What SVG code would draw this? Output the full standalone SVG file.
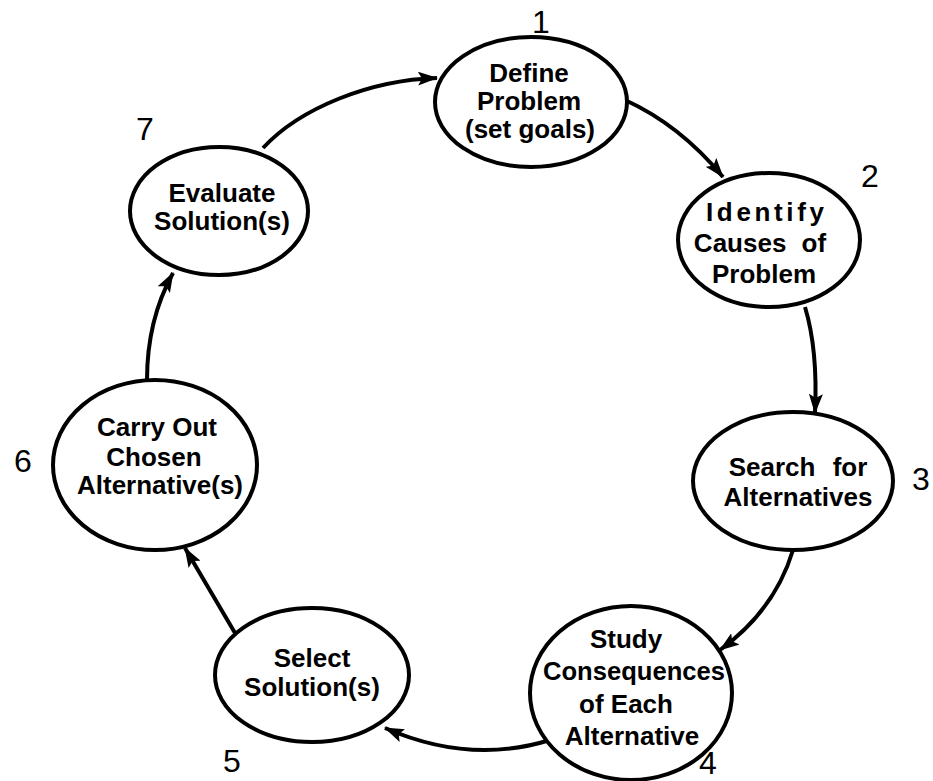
<svg xmlns="http://www.w3.org/2000/svg" width="933" height="781" viewBox="0 0 933 781">
<defs>
<marker id="ah" markerWidth="20" markerHeight="14" refX="19" refY="7" orient="auto" markerUnits="userSpaceOnUse">
<path d="M0,0 L20,7 L0,14 L4,7 Z" fill="#000"/>
</marker>
<style>
.node ellipse{fill:#fff;stroke:#000;stroke-width:4}
.lbl{font-family:"Liberation Sans",Arial,sans-serif;font-weight:bold;font-size:26px;text-anchor:middle;fill:#000}
.num{font-family:"Liberation Sans",Arial,sans-serif;font-size:32px;text-anchor:middle;fill:#000}
.edge{fill:none;stroke:#000;stroke-width:4;marker-end:url(#ah)}
</style>
</defs>
<rect width="933" height="781" fill="#fff"/>
<g id="connectors">
<path class="edge" d="M263,148 C300,108 370,80 437,78"/>
<path class="edge" d="M625,100 Q680,125 723,177"/>
<path class="edge" d="M805,307 Q818,350 815,413"/>
<path class="edge" d="M793,550 Q775,610 720,650"/>
<path class="edge" d="M550,740 Q470,765 385,728"/>
<path class="edge" d="M235,633 L185,548"/>
<path class="edge" d="M147,380 Q147,320 173,273"/>
</g>
<g id="node1" class="node">
<ellipse cx="531" cy="102" rx="96" ry="65"/>
<text class="lbl" x="529" y="82">Define</text>
<text class="lbl" x="529" y="110">Problem</text>
<text class="lbl" x="530" y="138">(set goals)</text>
</g>
<g id="node2" class="node">
<ellipse cx="769" cy="240" rx="91" ry="67"/>
<text class="lbl" x="765" y="221" textLength="118">Identify</text>
<text class="lbl" x="760" y="252" word-spacing="8">Causes of</text>
<text class="lbl" x="764" y="283">Problem</text>
</g>
<g id="node3" class="node">
<ellipse cx="793" cy="481" rx="100" ry="69"/>
<text class="lbl" x="798" y="476" word-spacing="10">Search for</text>
<text class="lbl" x="798" y="506">Alternatives</text>
</g>
<g id="node4" class="node">
<ellipse cx="631" cy="693" rx="101" ry="87"/>
<text class="lbl" x="626" y="648">Study</text>
<text class="lbl" x="634" y="680" textLength="182" lengthAdjust="spacingAndGlyphs">Consequences</text>
<text class="lbl" x="626" y="713">of Each</text>
<text class="lbl" x="632" y="745">Alternative</text>
</g>
<g id="node5" class="node">
<ellipse cx="312" cy="675" rx="97" ry="67"/>
<text class="lbl" x="312" y="667">Select</text>
<text class="lbl" x="312" y="696">Solution(s)</text>
</g>
<g id="node6" class="node">
<ellipse cx="155" cy="465" rx="102" ry="85"/>
<text class="lbl" x="157" y="436">Carry Out</text>
<text class="lbl" x="154" y="466">Chosen</text>
<text class="lbl" x="160" y="494" textLength="166" lengthAdjust="spacingAndGlyphs">Alternative(s)</text>
</g>
<g id="node7" class="node">
<ellipse cx="219" cy="211" rx="89" ry="64"/>
<text class="lbl" x="222" y="202">Evaluate</text>
<text class="lbl" x="222" y="230">Solution(s)</text>
</g>
<g id="numbers">
<text class="num" x="541" y="33">1</text>
<text class="num" x="870" y="187">2</text>
<text class="num" x="921" y="490">3</text>
<text class="num" x="708" y="774" font-size="30">4</text>
<text class="num" x="232" y="772">5</text>
<text class="num" x="23" y="472">6</text>
<text class="num" x="145" y="140">7</text>
</g>
</svg>
